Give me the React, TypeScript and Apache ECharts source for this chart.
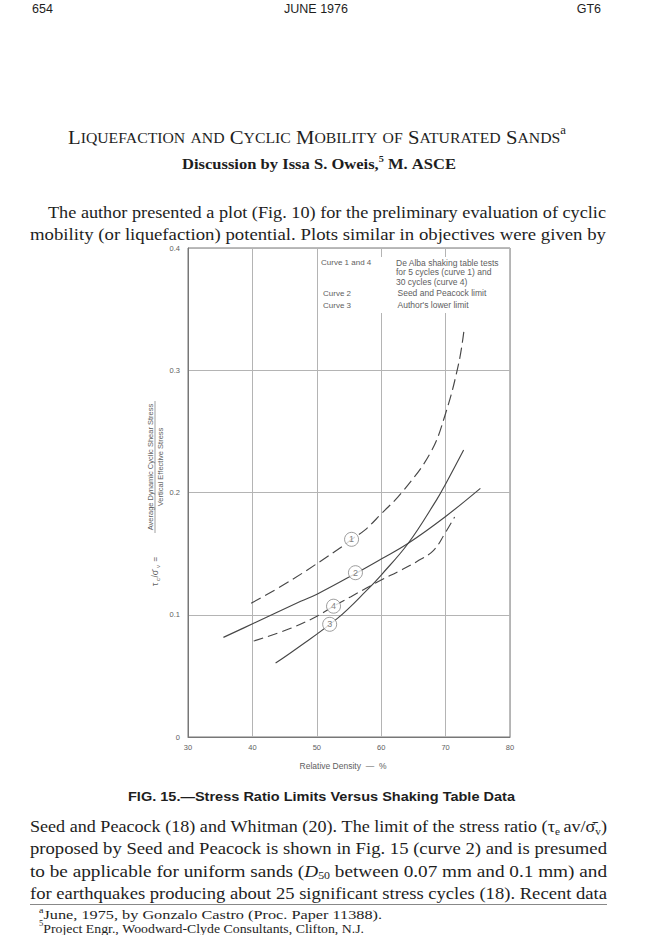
import React, { useEffect, useRef } from 'react';
import * as echarts from 'echarts';

const PAGE_W = 650;
const PAGE_H = 935;

// ---- chart data ----
const xMin = 30, xMax = 80, xStep = 10;
const yMin = 0, yMax = 0.4, yStep = 0.1;

const curve1X = [39.8, 45.95, 54.0, 55.4, 57.4, 60.0, 63.2, 67.6, 69.9, 72.05, 72.9];
const curve1Y = [0.1094, 0.128, 0.156, 0.1617, 0.169, 0.1825, 0.2, 0.232, 0.263, 0.306, 0.3346];

const curve2X = [35.5, 40.2, 47.5, 50.1, 56.1, 60.0, 64.2, 69.9, 75.4];
const curve2Y = [0.0815, 0.093, 0.111, 0.117, 0.134, 0.1456, 0.1585, 0.18, 0.2034];

const curve3X = [43.6, 46.5, 53.2, 57.9, 60.0, 64.2, 68.6, 69.9, 72.8];
const curve3Y = [0.0605, 0.071, 0.097, 0.1207, 0.1325, 0.1585, 0.194, 0.206, 0.2348];

const curve4X = [40.2, 45.95, 50.1, 52.6, 55.3, 60.0, 62.6, 65.5, 68.1, 69.9, 71.4];
const curve4Y = [0.0785, 0.0889, 0.099, 0.107, 0.1148, 0.1284, 0.1352, 0.1434, 0.1525, 0.1666, 0.18];

const markerX = [55.4, 56.0, 52.6, 52.0];
const markerY = [0.1617, 0.1344, 0.107, 0.0922];
const markerLabels = ['1', '2', '4', '3'];

const legendLeft = ['Curve 1 and 4', '', '', 'Curve 2', 'Curve 3'];
const legendRight = [
  'De Alba shaking table tests',
  'for 5 cycles (curve 1) and',
  '30 cycles (curve 4)',
  'Seed and Peacock limit',
  "Author's lower limit",
];
const xAxisTitle = 'Relative Density  \u2014  %';
const yTitleNumerator = 'Average Dynamic Cyclic Shear Stress';
const yTitleDenominator = 'Vertical Effective Stress';

// ---- page texts ----
const headerLeft = '654';
const headerCenter = 'JUNE 1976';
const headerRight = 'GT6';
const titleWords = ['L~{IQUEFACTION}', '~{AND}', 'C~{YCLIC}', 'M~{OBILITY}', '~{OF}', 'S~{ATURATED}', 'S~{ANDS}^{a}'];
const byline = 'Discussion by Issa S. Oweis,^{5} M. ASCE';
const para1 = [
  'The author presented a plot (Fig. 10) for the preliminary evaluation of cyclic',
  'mobility (or liquefaction) potential. Plots similar in objectives were given by',
];
const caption = 'FIG. 15.\u2014Stress Ratio Limits Versus Shaking Table Data';
const para2 = [
  'Seed and Peacock (18) and Whitman (20). The limit of the stress ratio (\u03c4_{e}\u2009av/\u03c3\u0304_{v})',
  'proposed by Seed and Peacock is shown in Fig. 15 (curve 2) and is presumed',
  'to be applicable for uniform sands (*D*_{50} between 0.07 mm and 0.1 mm) and',
  'for earthquakes producing about 25 significant stress cycles (18). Recent data',
];
const footnotes = [
  '^{a}June, 1975, by Gonzalo Castro (Proc. Paper 11388).',
  '^{5}Project Engr., Woodward-Clyde Consultants, Clifton, N.J.',
];

const SERIF = '"Liberation Serif", "Times New Roman", serif';
const SANS = '"Liberation Sans", Arial, sans-serif';
const INK = '#1e1e1e';
const GRAY = '#5e5e5e';

type Seg = { t: string; k: string };

function parseWord(w: string): Seg[] {
  const segs: Seg[] = [];
  let cur = '';
  let italic = false;
  let i = 0;
  const flush = () => {
    if (cur) segs.push({ t: cur, k: italic ? 'i' : 'n' });
    cur = '';
  };
  while (i < w.length) {
    const c = w[i];
    if ((c === '_' || c === '^' || c === '~') && w[i + 1] === '{') {
      flush();
      const end = w.indexOf('}', i);
      segs.push({ t: w.slice(i + 2, end), k: c === '_' ? 'sub' : c === '^' ? 'sup' : 'sc' });
      i = end + 1;
      continue;
    }
    if (c === '*') {
      flush();
      italic = !italic;
      i++;
      continue;
    }
    cur += c;
    i++;
  }
  flush();
  return segs;
}

function App() {
  const ref = useRef<HTMLDivElement>(null);

  useEffect(() => {
    document.body.style.margin = '0';
    const canvas = document.createElement('canvas');
    const ctx = canvas.getContext('2d')!;
    const segSize = (k: string, S: number) => (k === 'sub' || k === 'sup' ? S * 0.62 : k === 'sc' ? S * 0.76 : S);
    const segDy = (k: string, S: number) => (k === 'sub' ? S * 0.28 : k === 'sup' ? -S * 0.36 : k === 'sc' ? S * 0.08 : 0);
    const measure = (t: string, size: number, fam: string, weight: string, italic: boolean) => {
      ctx.font = `${italic ? 'italic' : 'normal'} ${weight} ${size}px ${fam}`;
      return ctx.measureText(t).width;
    };
    const wordWidth = (segs: Seg[], S: number, fam: string, weight: string) =>
      segs.reduce((a, s) => a + measure(s.t, segSize(s.k, S), fam, weight, s.k === 'i'), 0);

    const els: any[] = [];
    // Lay a line of words between left and right; glyphs are stretched horizontally (scaleX)
    // so that the line fills the measure, then any remainder goes to the word gaps.
    const layout = (
      words: string[],
      o: { left: number; right: number; y: number; S: number; fam: string; weight?: string; color?: string }
    ) => {
      const weight = o.weight || 'normal';
      const parsed = words.map(parseWord);
      const S = o.S;
      const sp = measure(' ', S, o.fam, weight, false);
      const widths = parsed.map((p) => wordWidth(p, S, o.fam, weight));
      const sum = widths.reduce((a, b) => a + b, 0);
      const nat = sum + sp * (parsed.length - 1);
      const target = o.right - o.left;
      const sx = target / nat;
      const gap = parsed.length > 1 ? (target - sum * sx) / (parsed.length - 1) : 0;
      let x = o.left;
      parsed.forEach((p) => {
        p.forEach((s) => {
          const sz = segSize(s.k, S);
          els.push({
            type: 'text',
            x,
            y: o.y + segDy(s.k, S),
            scaleX: sx,
            z: 10,
            silent: true,
            style: {
              text: s.t,
              fontSize: sz,
              fontFamily: o.fam,
              fontWeight: weight,
              fontStyle: s.k === 'i' ? 'italic' : 'normal',
              fill: o.color || INK,
              textAlign: 'left',
              textVerticalAlign: 'middle',
            },
          });
          x += measure(s.t, sz, o.fam, weight, s.k === 'i') * sx;
        });
        x += gap;
      });
    };

    // header
    const hdr = (t: string, x: number, align: string) =>
      els.push({
        type: 'text', x, y: 9, z: 10, silent: true,
        style: { text: t, fontSize: 12.5, fontFamily: SANS, fill: INK, textAlign: align, textVerticalAlign: 'middle' },
      });
    hdr(headerLeft, 32, 'left');
    hdr(headerCenter, 316, 'center');
    hdr(headerRight, 601, 'right');

    layout(titleWords, { left: 68, right: 566, y: 137, S: 19, fam: SERIF });
    layout(byline.split(' '), { left: 182, right: 456, y: 164, S: 14.5, fam: SERIF, weight: 'bold' });
    layout(para1[0].split(' '), { left: 48, right: 606, y: 213, S: 16, fam: SERIF });
    layout(para1[1].split(' '), { left: 30, right: 606, y: 234, S: 16, fam: SERIF });
    layout(caption.split(' '), { left: 128, right: 515, y: 797, S: 13, fam: SANS, weight: 'bold' });
    para2.forEach((l, i) => layout(l.split(' '), { left: 30, right: 607, y: 827 + i * 22.2, S: 16, fam: SERIF }));
    els.push({
      type: 'line', z: 10, silent: true,
      shape: { x1: 30, y1: 904.5, x2: 607, y2: 904.5 },
      style: { stroke: '#888', lineWidth: 1 },
    });
    layout(footnotes[0].split(' '), { left: 39, right: 382, y: 915, S: 12.5, fam: SERIF });
    layout(footnotes[1].split(' '), { left: 39, right: 364, y: 928.5, S: 12.5, fam: SERIF });

    // chart annotations
    els.push({
      type: 'rect', z: 3, silent: true,
      shape: { x: 320, y: 257, width: 188, height: 56 },
      style: { fill: '#fff' },
    });
    const legY = [262.7, 272.3, 281.7, 293.3, 305.3];
    legendLeft.forEach((t, i) => {
      if (!t) return;
      els.push({
        type: 'text', x: i === 0 ? 321 : 323, y: legY[i], z: 4, silent: true,
        style: { text: t, fontSize: 8, fontFamily: SANS, fill: GRAY, textAlign: 'left', textVerticalAlign: 'middle' },
      });
    });
    legendRight.forEach((t, i) => {
      els.push({
        type: 'text', x: i < 3 ? 396 : 397.5, y: legY[i], z: 4, silent: true,
        style: { text: t, fontSize: 8.5, fontFamily: SANS, fill: GRAY, textAlign: 'left', textVerticalAlign: 'middle' },
      });
    });
    els.push({
      type: 'text', x: 343, y: 766, z: 4, silent: true,
      style: { text: xAxisTitle, fontSize: 8.5, fontFamily: SANS, fill: GRAY, textAlign: 'center', textVerticalAlign: 'middle' },
    });
    // rotated y title (reads bottom to top)
    els.push({
      type: 'group', x: 155, y: 467, rotation: Math.PI / 2, z: 4,
      children: [
        {
          type: 'text', x: 0, y: -5, silent: true,
          style: { text: yTitleNumerator, fontSize: 7.5, fontFamily: SANS, fill: GRAY, textAlign: 'center', textVerticalAlign: 'middle' },
        },
        { type: 'line', silent: true, shape: { x1: -66, y1: 0, x2: 66, y2: 0 }, style: { stroke: '#888', lineWidth: 0.8 } },
        {
          type: 'text', x: 0, y: 5, silent: true,
          style: { text: yTitleDenominator, fontSize: 7.5, fontFamily: SANS, fill: GRAY, textAlign: 'center', textVerticalAlign: 'middle' },
        },
        { type: 'text', x: -119, y: 0, silent: true, style: { text: '\u03c4', fontSize: 8.5, fontFamily: SANS, fill: GRAY, textVerticalAlign: 'middle' } },
        { type: 'text', x: -114, y: 2.5, silent: true, style: { text: 'c', fontSize: 6, fontFamily: SANS, fill: GRAY, textVerticalAlign: 'middle' } },
        { type: 'text', x: -110.5, y: 0, silent: true, style: { text: '/\u03c3\u0304', fontSize: 8.5, fontFamily: SANS, fill: GRAY, textVerticalAlign: 'middle' } },
        { type: 'text', x: -101, y: 2.5, silent: true, style: { text: 'v', fontSize: 6, fontFamily: SANS, fill: GRAY, textVerticalAlign: 'middle' } },
        { type: 'text', x: -97, y: 0, silent: true, style: { text: ' =', fontSize: 8.5, fontFamily: SANS, fill: GRAY, textVerticalAlign: 'middle' } },
      ],
    });

    const zip = (xs: number[], ys: number[]) => xs.map((x, i) => [x, ys[i]]);
    const lineBase = (name: string, xs: number[], ys: number[], dashed: number[] | null) => ({
      name,
      type: 'line',
      data: zip(xs, ys),
      smooth: 0.4,
      showSymbol: false,
      symbol: 'none',
      z: 3,
      lineStyle: { color: '#474747', width: 1.15, type: dashed || 'solid' },
    });

    const chart = echarts.init(ref.current!, undefined, { renderer: 'svg' });
    chart.setOption({
      animation: false,
      backgroundColor: '#fff',
      grid: { left: 188, top: 248, width: 322, height: 489, show: true, borderColor: '#777', borderWidth: 1 },
      xAxis: {
        type: 'value', min: xMin, max: xMax, interval: xStep,
        axisLine: { show: true, lineStyle: { color: '#777', width: 1 } },
        axisTick: { show: false },
        axisLabel: { fontSize: 7.5, color: GRAY, fontFamily: SANS, margin: 6 },
        splitLine: { show: true, lineStyle: { color: '#b4b4b4', width: 1 } },
      },
      yAxis: {
        type: 'value', min: yMin, max: yMax, interval: yStep,
        axisLine: { show: true, lineStyle: { color: '#777', width: 1 } },
        axisTick: { show: false },
        axisLabel: { fontSize: 7.5, color: GRAY, fontFamily: SANS, margin: 8 },
        splitLine: { show: true, lineStyle: { color: '#b4b4b4', width: 1 } },
      },
      series: [
        lineBase('Curve 1', curve1X, curve1Y, [11, 5]),
        lineBase('Curve 2', curve2X, curve2Y, null),
        lineBase('Curve 3', curve3X, curve3Y, null),
        lineBase('Curve 4', curve4X, curve4Y, [10, 5]),
        {
          name: 'markers',
          type: 'scatter',
          z: 5,
          symbol: 'circle',
          symbolSize: 14,
          data: markerX.map((x, i) => ({ value: [x, markerY[i]], name: markerLabels[i] })),
          itemStyle: { color: '#fff', borderColor: '#777', borderWidth: 0.9 },
          label: { show: true, position: 'inside', formatter: '{b}', fontSize: 9, color: GRAY, fontFamily: SANS },
        },
      ],
      graphic: { elements: els },
    });
    return () => chart.dispose();
  }, []);

  return <div ref={ref} style={{ position: 'fixed', left: 0, top: 0, width: PAGE_W, height: PAGE_H, background: '#fff' }} />;
}

export default App;
